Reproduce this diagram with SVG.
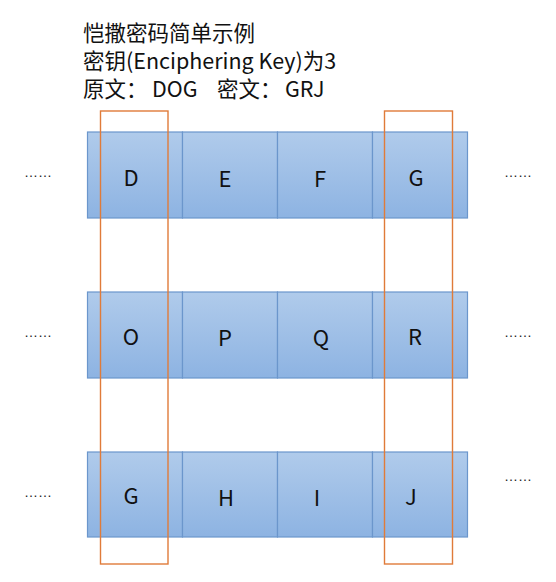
<svg xmlns="http://www.w3.org/2000/svg" width="556" height="582" viewBox="0 0 556 582">
<defs>
<linearGradient id="g" x1="0" y1="0" x2="0" y2="1">
<stop offset="0" stop-color="#b0cbeb"/>
<stop offset="1" stop-color="#8db3e2"/>
</linearGradient>
<style>
.cell{fill:url(#g);stroke:#6b96cc;stroke-width:1.2}
.lt{font-family:"Noto Sans CJK SC","Noto Sans",sans-serif;font-size:22px;fill:#111;text-anchor:middle;dominant-baseline:central}
.tt{font-family:"Noto Sans CJK SC","Noto Sans",sans-serif;font-size:21.5px;fill:#111}
.dots{font-family:"Liberation Sans",sans-serif;font-size:14px;fill:#222}
.sel{fill:none;stroke:#e07b39;stroke-width:1.4}
</style>
</defs>
<rect width="556" height="582" fill="#fff"/>
<g id="title">
<text class="tt" x="83" y="41">恺撒密码简单示例</text>
<text class="tt" x="83" y="69">密钥(Enciphering Key)为3</text>
<text class="tt" y="97"><tspan x="83">原文：</tspan><tspan x="152">DOG</tspan><tspan x="217">密文：</tspan><tspan x="285">GRJ</tspan></text>
</g>
<g id="row1">
<g id="cD"><rect class="cell" x="87.5" y="132" width="95" height="86"/><text class="lt" x="131" y="176">D</text></g>
<g id="cE"><rect class="cell" x="182.5" y="132" width="95" height="86"/><text class="lt" x="225" y="177">E</text></g>
<g id="cF"><rect class="cell" x="277.5" y="132" width="95" height="86"/><text class="lt" x="320" y="177">F</text></g>
<g id="cG"><rect class="cell" x="372.5" y="132" width="95" height="86"/><text class="lt" x="416" y="176">G</text></g>
<text class="dots" x="24" y="177">……</text>
<text class="dots" x="504" y="177">……</text>
</g>
<g id="row2">
<g id="cO"><rect class="cell" x="87.5" y="292" width="95" height="86"/><text class="lt" x="131" y="335">O</text></g>
<g id="cP"><rect class="cell" x="182.5" y="292" width="95" height="86"/><text class="lt" x="225" y="336">P</text></g>
<g id="cQ"><rect class="cell" x="277.5" y="292" width="95" height="86"/><text class="lt" x="321" y="336">Q</text></g>
<g id="cR"><rect class="cell" x="372.5" y="292" width="95" height="86"/><text class="lt" x="415" y="335">R</text></g>
<text class="dots" x="24" y="337">……</text>
<text class="dots" x="504" y="337">……</text>
</g>
<g id="row3">
<g id="cG2"><rect class="cell" x="87.5" y="452" width="95" height="85"/><text class="lt" x="131" y="494">G</text></g>
<g id="cH"><rect class="cell" x="182.5" y="452" width="95" height="85"/><text class="lt" x="226" y="496">H</text></g>
<g id="cI"><rect class="cell" x="277.5" y="452" width="95" height="85"/><text class="lt" x="317" y="496">I</text></g>
<g id="cJ"><rect class="cell" x="372.5" y="452" width="95" height="85"/><text class="lt" x="411" y="495">J</text></g>
<text class="dots" x="24" y="497">……</text>
<text class="dots" x="504" y="481">……</text>
</g>
<g id="selections">
<rect class="sel" x="100.5" y="111" width="67.5" height="453"/>
<rect class="sel" x="384.5" y="111" width="68" height="453"/>
</g>
</svg>
